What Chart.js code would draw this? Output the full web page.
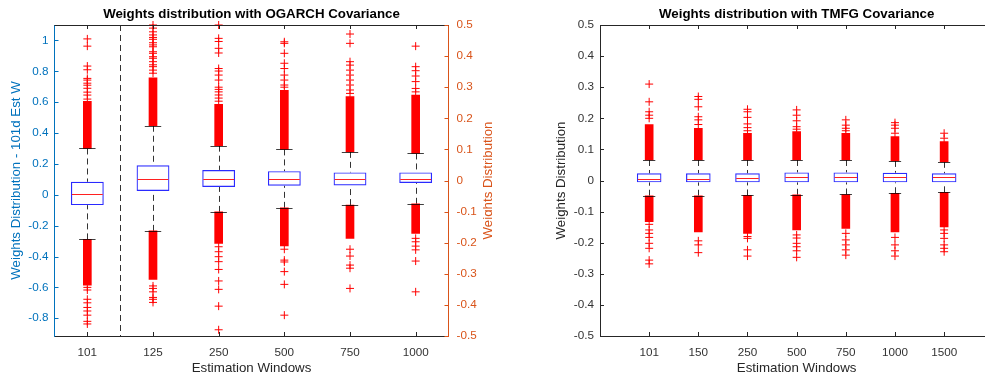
<!DOCTYPE html>
<html>
<head>
<meta charset="utf-8">
<script src="https://cdn.jsdelivr.net/npm/chart.js@4.4.1/dist/chart.umd.min.js"></script>
<style>
  html, body { margin: 0; padding: 0; background: #fff; overflow: hidden; width: 985px; height: 381px; }
  #wrapOgarch { position: absolute; left: 0; top: 0; width: 492px; height: 381px; }
  #wrapTmfg { position: absolute; left: 492px; top: 0; width: 515px; height: 381px; }
</style>
</head>
<body>
<div id="wrapOgarch"><canvas id="ogarchChart" width="492" height="381"></canvas></div>
<div id="wrapTmfg"><canvas id="tmfgChart" width="515" height="381"></canvas></div>
<script>
// ---- OGARCH panel (first window read on the left axis, the rest on the right axis) ----
const ogarchWindows = ['101', '125', '250', '500', '750', '1000'];
const ogarchAxis = ['yL', 'yR', 'yR', 'yR', 'yR', 'yR'];
const ogarchQ1 = [-0.067, -0.034, -0.021, -0.017, -0.016, -0.008];
const ogarchMedian = [0.005, 0.006, 0.006, 0.004, 0.004, 0.004];
const ogarchQ3 = [0.084, 0.049, 0.034, 0.030, 0.026, 0.026];
const ogarchWhiskerLo = [-0.289, -0.162, -0.101, -0.088, -0.079, -0.075];
const ogarchWhiskerHi = [0.300, 0.176, 0.112, 0.100, 0.092, 0.087];
// outliers so packed they merge into a solid red column
const ogarchDenseLo = [-0.585, -0.318, -0.202, -0.210, -0.186, -0.170];
const ogarchDenseHi = [0.605, 0.330, 0.245, 0.290, 0.270, 0.275];
const ogarchOutHi = [
  [0.62, 0.646, 0.665, 0.69, 0.71, 0.723, 0.743, 0.754, 0.81, 0.834, 0.963, 1.01],
  [0.345, 0.355, 0.366, 0.372, 0.382, 0.393, 0.398, 0.409, 0.414, 0.43, 0.436, 0.443, 0.454, 0.46, 0.468, 0.478, 0.49, 0.5],
  [0.255, 0.265, 0.275, 0.285, 0.293, 0.3, 0.323, 0.339, 0.352, 0.36, 0.41, 0.425, 0.447, 0.457, 0.5],
  [0.3, 0.307, 0.323, 0.339, 0.36, 0.377, 0.409, 0.441, 0.446],
  [0.28, 0.291, 0.307, 0.323, 0.339, 0.355, 0.371, 0.382, 0.441, 0.471],
  [0.285, 0.296, 0.318, 0.336, 0.353, 0.366, 0.432]
];
const ogarchOutLo = [
  [-0.6, -0.617, -0.677, -0.7, -0.73, -0.753, -0.78, -0.82, -0.837],
  [-0.339, -0.347, -0.358, -0.376, -0.382, -0.392],
  [-0.213, -0.229, -0.245, -0.261, -0.286, -0.323, -0.35, -0.404, -0.48],
  [-0.221, -0.256, -0.262, -0.293, -0.334, -0.433],
  [-0.221, -0.243, -0.272, -0.282, -0.347],
  [-0.186, -0.197, -0.211, -0.223, -0.259, -0.358]
];
const ogarchLeftTicks = [-0.8, -0.6, -0.4, -0.2, 0, 0.2, 0.4, 0.6, 0.8, 1];
const ogarchRightTicks = [-0.5, -0.4, -0.3, -0.2, -0.1, 0, 0.1, 0.2, 0.3, 0.4, 0.5];

// ---- TMFG panel ----
const tmfgWindows = ['101', '150', '250', '500', '750', '1000', '1500'];
const tmfgAxis = ['y', 'y', 'y', 'y', 'y', 'y', 'y'];
const tmfgQ1 = [-0.006, -0.006, -0.006, -0.006, -0.006, -0.006, -0.006];
const tmfgMedian = [0.006, 0.006, 0.008, 0.010, 0.010, 0.010, 0.010];
const tmfgQ3 = [0.023, 0.023, 0.023, 0.026, 0.026, 0.025, 0.023];
const tmfgWhiskerLo = [-0.049, -0.049, -0.048, -0.046, -0.045, -0.041, -0.038];
const tmfgWhiskerHi = [0.066, 0.066, 0.066, 0.066, 0.066, 0.063, 0.060];
const tmfgDenseLo = [-0.132, -0.165, -0.170, -0.159, -0.154, -0.165, -0.149];
const tmfgDenseHi = [0.180, 0.168, 0.152, 0.157, 0.152, 0.141, 0.125];
const tmfgOutHi = [
  [0.2, 0.21, 0.221, 0.253, 0.31],
  [0.18, 0.195, 0.205, 0.237, 0.261, 0.27],
  [0.16, 0.17, 0.182, 0.203, 0.221, 0.229],
  [0.165, 0.173, 0.192, 0.21, 0.227],
  [0.16, 0.168, 0.178, 0.195],
  [0.152, 0.168, 0.178, 0.186],
  [0.136, 0.152]
];
const tmfgOutLo = [
  [-0.141, -0.159, -0.17, -0.183, -0.202, -0.218, -0.256, -0.268],
  [-0.194, -0.207, -0.232],
  [-0.18, -0.186, -0.223, -0.243],
  [-0.175, -0.185, -0.202, -0.213, -0.226, -0.247],
  [-0.17, -0.191, -0.207, -0.223, -0.24],
  [-0.183, -0.207, -0.226, -0.243],
  [-0.159, -0.17, -0.186, -0.207, -0.218, -0.229]
];
const tmfgTicks = [-0.5, -0.4, -0.3, -0.2, -0.1, 0, 0.1, 0.2, 0.3, 0.4, 0.5];

const FONT = "'Liberation Sans', Arial, Helvetica, sans-serif";
const AXIS_GREY = '#262626';
const BLUE_AXIS = '#0072BD';
const ORANGE_AXIS = '#D95319';
Chart.defaults.font.family = FONT;

/**
 * Builds boxes, dense outlier columns and sparse outlier crosses, one group per y axis.
 */
function buildDatasets(windows, axisOf, q1, q3, wLo, wHi, denseLo, denseHi, outLo, outHi) {
  const sets = [];
  [...new Set(axisOf)].forEach(ax => {
    const idx = windows.map((_, i) => i).filter(i => axisOf[i] === ax);
    sets.push({
      type: 'bar', yAxisID: ax, grouped: false,
      data: idx.map(i => ({ x: i + 1, y: [q1[i], q3[i]] })),
      backgroundColor: 'rgba(0,0,0,0)', borderColor: '#2a2aff', borderWidth: 1.2,
      borderSkipped: false, barPercentage: 0.5, categoryPercentage: 1
    });
    const band = {
      type: 'bar', yAxisID: ax, grouped: false,
      backgroundColor: '#ff0000', borderWidth: 0,
      barPercentage: 1, categoryPercentage: 1, maxBarThickness: 8
    };
    sets.push({ ...band, data: idx.map(i => ({ x: i + 1, y: [wHi[i], denseHi[i]] })) });
    sets.push({ ...band, data: idx.map(i => ({ x: i + 1, y: [denseLo[i], wLo[i]] })) });
    sets.push({
      type: 'scatter', yAxisID: ax, clip: false,
      data: idx.flatMap(i => outHi[i].concat(outLo[i]).map(v => ({ x: i + 1, y: v }))),
      pointStyle: 'cross', pointRadius: 4, borderColor: '#ff0000', borderWidth: 1,
      backgroundColor: '#ff0000'
    });
  });
  return sets;
}

function boxItems(windows, axisOf, q1, med, q3, wLo, wHi) {
  return windows.map((_, i) => ({
    x: i + 1, axis: axisOf[i], q1: q1[i], med: med[i], q3: q3[i], lo: wLo[i], hi: wHi[i]
  }));
}

function fmtTick(v) {
  const r = Math.round(v * 10) / 10;
  return r === 0 ? '0' : String(r);
}

// Whiskers, medians, the frame with inward ticks and all the titles
const boxPlotDecor = {
  id: 'boxPlotDecor',
  beforeDatasetsDraw(chart, args, opts) {
    const { ctx, chartArea: ca } = chart;
    const xs = chart.scales.x;
    ctx.save();
    if (opts.separatorAt) {
      const sx = Math.round(xs.getPixelForValue(opts.separatorAt)) + 0.5;
      ctx.strokeStyle = '#333';
      ctx.lineWidth = 1;
      ctx.setLineDash([6, 4]);
      ctx.beginPath();
      ctx.moveTo(sx, ca.top);
      ctx.lineTo(sx, ca.bottom);
      ctx.stroke();
    }
    opts.boxes.forEach(b => {
      const ys = chart.scales[b.axis];
      const cx = Math.round(xs.getPixelForValue(b.x)) + 0.5;
      ctx.strokeStyle = 'rgba(0,0,0,0.8)';
      ctx.lineWidth = 1;
      ctx.setLineDash([6, 4]);
      ctx.beginPath();
      ctx.moveTo(cx, ys.getPixelForValue(b.hi));
      ctx.lineTo(cx, ys.getPixelForValue(b.q3));
      ctx.moveTo(cx, ys.getPixelForValue(b.lo));
      ctx.lineTo(cx, ys.getPixelForValue(b.q1));
      ctx.stroke();
      ctx.setLineDash([]);
    });
    ctx.restore();
  },
  afterDatasetsDraw(chart, args, opts) {
    const { ctx } = chart;
    const xs = chart.scales.x;
    ctx.save();
    opts.boxes.forEach(b => {
      const ys = chart.scales[b.axis];
      const cx = xs.getPixelForValue(b.x);
      const half = Math.abs(xs.getPixelForValue(b.x + 0.25) - cx);
      const cap = half / 2;
      ctx.lineWidth = 1.2;
      ctx.strokeStyle = 'rgba(0,0,0,0.75)';
      ctx.beginPath();
      [b.hi, b.lo].forEach(v => {
        const y = Math.round(ys.getPixelForValue(v)) + 0.5;
        ctx.moveTo(cx - cap, y);
        ctx.lineTo(cx + cap, y);
      });
      ctx.stroke();
      const my = Math.round(ys.getPixelForValue(b.med)) + 0.5;
      ctx.strokeStyle = '#ff2020';
      ctx.lineWidth = 1;
      ctx.beginPath();
      ctx.moveTo(cx - half + 1, my);
      ctx.lineTo(cx + half - 1, my);
      ctx.stroke();
    });
    ctx.restore();
  },
  afterDraw(chart, args, opts) {
    const { ctx, chartArea: ca } = chart;
    const xs = chart.scales.x;
    const tl = 4;
    ctx.save();
    ctx.lineWidth = 1;
    // top edge of the box
    ctx.strokeStyle = AXIS_GREY;
    ctx.beginPath();
    ctx.moveTo(ca.left, Math.round(ca.top) + 0.5);
    ctx.lineTo(ca.right, Math.round(ca.top) + 0.5);
    ctx.stroke();
    // inward x ticks, bottom and top
    ctx.beginPath();
    xs.ticks.forEach(t => {
      const x = Math.round(xs.getPixelForValue(t.value)) + 0.5;
      ctx.moveTo(x, ca.bottom);
      ctx.lineTo(x, ca.bottom - tl);
      ctx.moveTo(x, ca.top);
      ctx.lineTo(x, ca.top + tl);
    });
    ctx.stroke();
    // inward y ticks
    Object.values(chart.scales).filter(s => s.axis === 'y').forEach(s => {
      ctx.strokeStyle = s.options.border.color;
      const dir = s.position === 'left' ? 1 : -1;
      const x0 = s.position === 'left' ? ca.left : ca.right;
      ctx.beginPath();
      s.ticks.forEach(t => {
        const y = Math.round(s.getPixelForValue(t.value)) + 0.5;
        ctx.moveTo(x0, y);
        ctx.lineTo(x0 + dir * tl, y);
      });
      ctx.stroke();
    });
    // titles
    const cx = (ca.left + ca.right) / 2;
    ctx.textAlign = 'center';
    ctx.textBaseline = 'middle';
    ctx.fillStyle = '#000';
    ctx.font = 'bold 13.3px ' + FONT;
    ctx.fillText(opts.title, cx, ca.top - 11);
    ctx.font = '13.3px ' + FONT;
    ctx.fillStyle = AXIS_GREY;
    ctx.fillText(opts.xTitle, cx, ca.bottom + 32);
    const cy = (ca.top + ca.bottom) / 2;
    opts.yTitles.forEach(yt => {
      const x = yt.side === 'left' ? ca.left - yt.offset : ca.right + yt.offset;
      ctx.save();
      ctx.translate(x, cy);
      ctx.rotate(-Math.PI / 2);
      ctx.fillStyle = yt.color;
      ctx.fillText(yt.text, 0, 0);
      ctx.restore();
    });
    ctx.restore();
  }
};

function xScale(windows, min, max) {
  return {
    type: 'linear', min: min, max: max, offset: false,
    grid: { display: false, drawTicks: false, offset: false },
    border: { display: true, color: AXIS_GREY, width: 1 },
    afterBuildTicks: s => { s.ticks = windows.map((_, i) => ({ value: i + 1 })); },
    afterFit: s => { s.height = 45; },
    ticks: {
      autoSkip: false, maxRotation: 0, padding: 10, color: '#333',
      font: { size: 11.7 },
      callback: v => windows[Math.round(v) - 1]
    }
  };
}

function yScale(position, min, max, tickValues, color, width, labelColor) {
  return {
    type: 'linear', position: position, min: min, max: max,
    grid: { display: false, drawTicks: false },
    border: { display: true, color: color, width: 1 },
    afterBuildTicks: s => { s.ticks = tickValues.map(v => ({ value: v })); },
    afterFit: s => { s.width = width; },
    ticks: {
      autoSkip: false, padding: position === 'left' ? 6 : 8, color: labelColor,
      font: { size: 11.7 },
      callback: v => fmtTick(v)
    }
  };
}

new Chart(document.getElementById('ogarchChart'), {
  type: 'bar',
  data: {
    datasets: buildDatasets(ogarchWindows, ogarchAxis, ogarchQ1, ogarchQ3, ogarchWhiskerLo,
      ogarchWhiskerHi, ogarchDenseLo, ogarchDenseHi, ogarchOutLo, ogarchOutHi)
  },
  options: {
    responsive: false,
    animation: false,
    devicePixelRatio: 1,
    layout: { padding: { top: 25, left: 0, right: 0, bottom: 0 } },
    scales: {
      x: xScale(ogarchWindows, 0.5, 6.5),
      yL: yScale('left', -0.915, 1.1, ogarchLeftTicks, BLUE_AXIS, 54.5, BLUE_AXIS),
      yR: yScale('right', -0.5, 0.5, ogarchRightTicks, ORANGE_AXIS, 43.5, ORANGE_AXIS)
    },
    plugins: {
      legend: { display: false },
      tooltip: { enabled: false },
      boxPlotDecor: {
        boxes: boxItems(ogarchWindows, ogarchAxis, ogarchQ1, ogarchMedian, ogarchQ3, ogarchWhiskerLo, ogarchWhiskerHi),
        separatorAt: 1.5,
        title: 'Weights distribution with OGARCH Covariance',
        xTitle: 'Estimation Windows',
        yTitles: [
          { text: 'Weights Distribution - 101d Est W', side: 'left', offset: 38.5, color: BLUE_AXIS },
          { text: 'Weights Distribution', side: 'right', offset: 39.5, color: ORANGE_AXIS }
        ]
      }
    }
  },
  plugins: [boxPlotDecor]
});

new Chart(document.getElementById('tmfgChart'), {
  type: 'bar',
  data: {
    datasets: buildDatasets(tmfgWindows, tmfgAxis, tmfgQ1, tmfgQ3, tmfgWhiskerLo,
      tmfgWhiskerHi, tmfgDenseLo, tmfgDenseHi, tmfgOutLo, tmfgOutHi)
  },
  options: {
    responsive: false,
    animation: false,
    devicePixelRatio: 1,
    layout: { padding: { top: 25, left: 0, right: 13.7, bottom: 0 } },
    scales: {
      x: xScale(tmfgWindows, 0, 8),
      y: yScale('left', -0.5, 0.5, tmfgTicks, AXIS_GREY, 108, '#333')
    },
    plugins: {
      legend: { display: false },
      tooltip: { enabled: false },
      boxPlotDecor: {
        boxes: boxItems(tmfgWindows, tmfgAxis, tmfgQ1, tmfgMedian, tmfgQ3, tmfgWhiskerLo, tmfgWhiskerHi),
        title: 'Weights distribution with TMFG Covariance',
        xTitle: 'Estimation Windows',
        yTitles: [
          { text: 'Weights Distribution', side: 'left', offset: 38.4, color: AXIS_GREY }
        ]
      }
    }
  },
  plugins: [boxPlotDecor]
});
</script>
</body>
</html>
